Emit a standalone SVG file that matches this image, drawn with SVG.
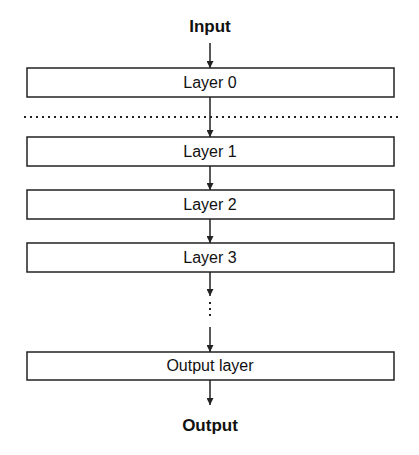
<svg xmlns="http://www.w3.org/2000/svg" width="419" height="455" viewBox="0 0 419 455">
<style>
.box{fill:#fff;stroke:#222;stroke-width:1.5}
.lbl{font-family:"Liberation Sans",Arial,sans-serif;font-size:16px;fill:#111;text-anchor:middle}
.hd{font-family:"Liberation Sans",Arial,sans-serif;font-size:17px;font-weight:bold;fill:#111;text-anchor:middle}
.ar{stroke:#222;stroke-width:1.5;fill:none;marker-end:url(#ah)}
.dot{stroke:#222;stroke-width:2;stroke-dasharray:2 4;fill:none}
</style>
<defs>
<marker id="ah" viewBox="0 0 10 10" refX="10" refY="5" markerWidth="7" markerHeight="7" markerUnits="userSpaceOnUse" orient="auto"><path d="M0,0 L10,5 L0,10 z" fill="#222"/></marker>
</defs>
<rect width="419" height="455" fill="#fff"/>
<g id="connectors">
<line class="ar" x1="210" y1="43" x2="210" y2="68"/>
<line class="ar" x1="210" y1="97" x2="210" y2="137"/>
<line class="ar" x1="210" y1="166" x2="210" y2="190"/>
<line class="ar" x1="210" y1="219" x2="210" y2="243"/>
<line class="ar" x1="210" y1="272" x2="210" y2="296"/>
<line class="ar" x1="210" y1="327" x2="210" y2="352"/>
<line class="ar" x1="210" y1="380" x2="210" y2="405"/>
<line class="dot" x1="210" y1="302" x2="210" y2="320" stroke-dasharray="1.6 6"/>
</g>
<line class="dot" x1="24" y1="117" x2="402" y2="117" stroke-dasharray="2 4.3"/>
<g id="input"><text class="hd" x="210" y="32">Input</text></g>
<g id="layer0"><rect class="box" x="27" y="68" width="367" height="29"/><text class="lbl" x="210" y="88">Layer 0</text></g>
<g id="layer1"><rect class="box" x="27" y="137" width="367" height="29"/><text class="lbl" x="210" y="157">Layer 1</text></g>
<g id="layer2"><rect class="box" x="27" y="190" width="367" height="29"/><text class="lbl" x="210" y="210">Layer 2</text></g>
<g id="layer3"><rect class="box" x="27" y="243" width="367" height="29"/><text class="lbl" x="210" y="263">Layer 3</text></g>
<g id="outputlayer"><rect class="box" x="27" y="352" width="367" height="28"/><text class="lbl" x="210" y="371">Output layer</text></g>
<g id="output"><text class="hd" x="210" y="431">Output</text></g>
</svg>
